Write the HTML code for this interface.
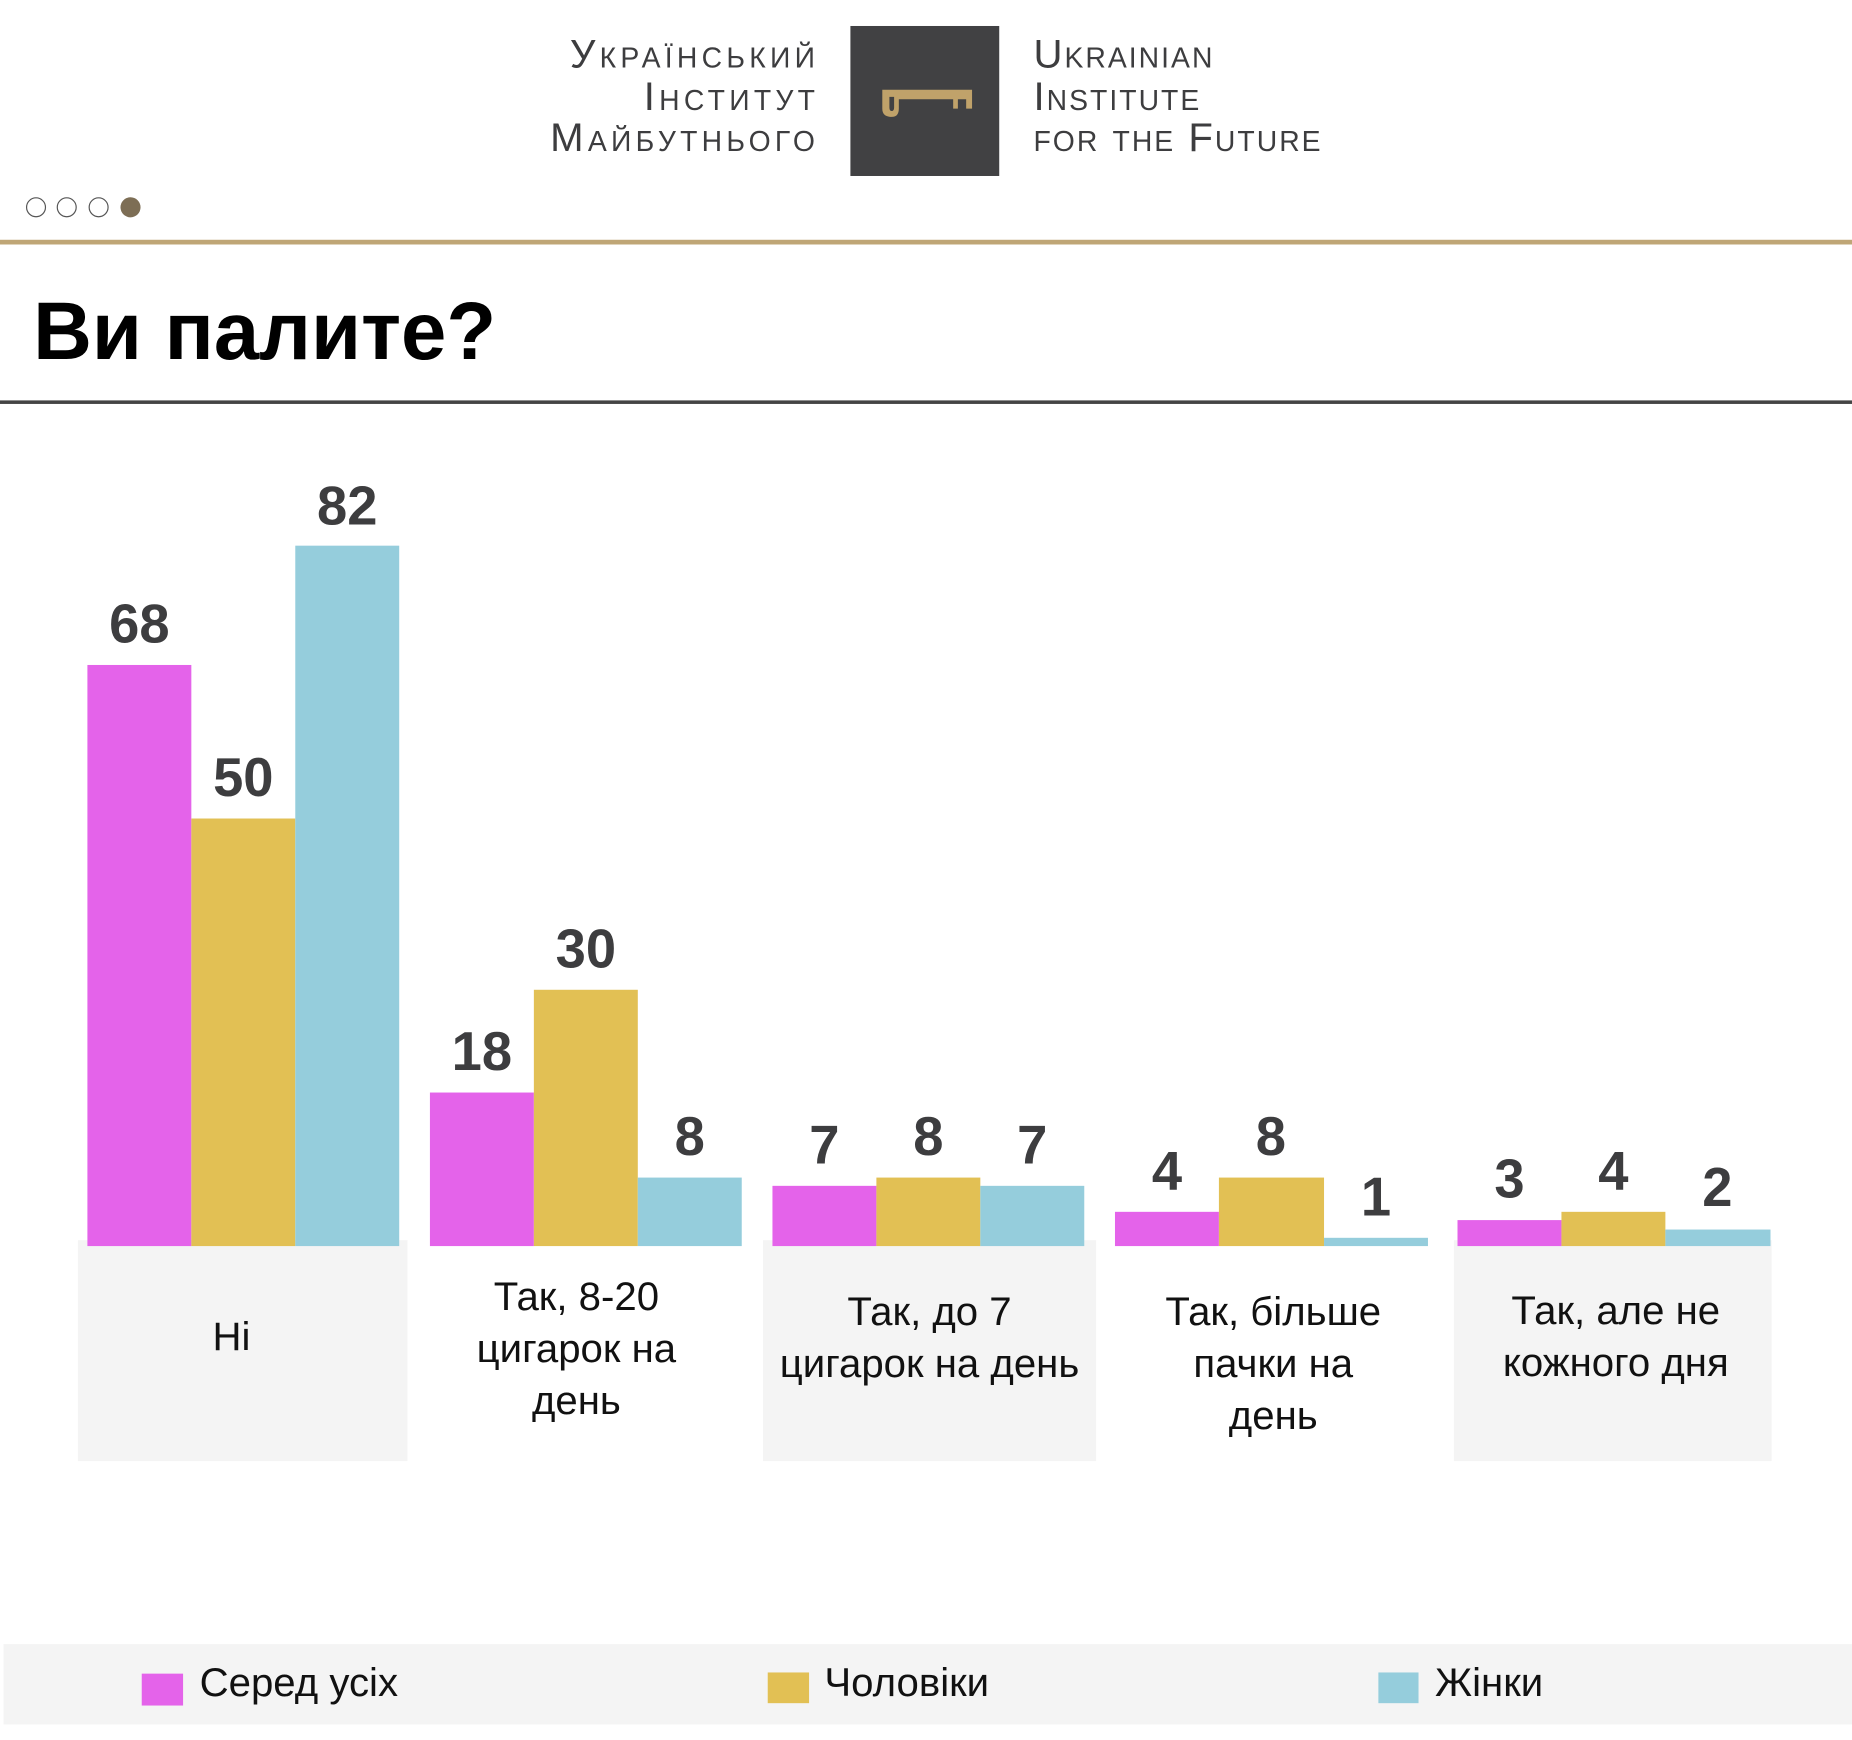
<!DOCTYPE html>
<html><head><meta charset="utf-8"><style>
html,body{margin:0;padding:0;background:#fff;width:1852px;height:1739px;overflow:hidden}
#w{position:absolute;left:0;top:0;width:1568px;height:1473px;transform:scale(1.18112);transform-origin:0 0;font-family:"Liberation Sans","DejaVu Sans",sans-serif}
.a{position:absolute}
.logo{font-variant:small-caps;font-size:34px;color:#3d3d3f;line-height:35.5px}
.v{position:absolute;width:88px;text-align:center;font-weight:bold;font-size:46px;color:#3d3d3f;line-height:46px}
.b{position:absolute;bottom:418px}
.m{background:#e463ea}.y{background:#e2c054}.c{background:#95cddc}
.lb{position:absolute;text-align:center;font-size:34px;line-height:44px;color:#111}
.box{position:absolute;background:#f4f4f4;top:1050px;height:187px}
.lg{position:absolute;font-size:34px;color:#111;top:1405px;line-height:40px}
</style></head><body><div id="w">
<div class="a logo" style="right:878px;top:29px;text-align:right;letter-spacing:3.6px;margin-right:-3.6px">Український<br>Інститут<br>Майбутнього</div>
<div class="a" style="left:720px;top:22px;width:126px;height:127px;background:#414143"></div>
<svg class="a" style="left:745px;top:72px" width="80" height="30"><path d="M2 4 H78 V20 H73 V12 H66 V20 H62 V12 H16 V20 Q16 27 10 27 Q2 27 2 20 Z M8 10 V19 Q8 22 10 22 Q12 22 12 19 V10 Z" fill="#c0a26a" fill-rule="evenodd"/></svg>
<div class="a logo" style="left:875px;top:29px;letter-spacing:1.7px">Ukrainian<br>Institute<br>for the Future</div>
<div class="a" style="left:22px;top:167px;width:15px;height:15px;border:1px solid #555;border-radius:50%"></div>
<div class="a" style="left:48px;top:167px;width:15px;height:15px;border:1px solid #555;border-radius:50%"></div>
<div class="a" style="left:75px;top:167px;width:15px;height:15px;border:1px solid #555;border-radius:50%"></div>
<div class="a" style="left:102px;top:167px;width:17px;height:17px;background:#7d6e55;border-radius:50%"></div>
<div class="a" style="left:0;top:203px;width:1568px;height:4px;background:#bfa676"></div>
<div class="a" style="left:28px;top:239px;font-size:69px;font-weight:bold;color:#000;line-height:84px">Ви палите?</div>
<div class="a" style="left:0;top:339px;width:1568px;height:3px;background:#444"></div>

<div class="box" style="left:66px;width:279px"></div>
<div class="box" style="left:646px;width:282px"></div>
<div class="box" style="left:1231px;width:269px"></div>

<div class="b m" style="left:74px;width:88px;height:492px"></div>
<div class="b y" style="left:162px;width:88px;height:362px"></div>
<div class="b c" style="left:250px;width:88px;height:593px"></div>
<div class="b m" style="left:364px;width:88px;height:130px"></div>
<div class="b y" style="left:452px;width:88px;height:217px"></div>
<div class="b c" style="left:540px;width:88px;height:58px"></div>
<div class="b m" style="left:654px;width:88px;height:51px"></div>
<div class="b y" style="left:742px;width:88px;height:58px"></div>
<div class="b c" style="left:830px;width:88px;height:51px"></div>
<div class="b m" style="left:944px;width:88px;height:29px"></div>
<div class="b y" style="left:1032px;width:89px;height:58px"></div>
<div class="b c" style="left:1121px;width:88px;height:7px"></div>
<div class="b m" style="left:1234px;width:88px;height:22px"></div>
<div class="b y" style="left:1322px;width:88px;height:29px"></div>
<div class="b c" style="left:1410px;width:89px;height:14px"></div>

<div class="v" style="left:74px;top:505px">68</div>
<div class="v" style="left:162px;top:635px">50</div>
<div class="v" style="left:250px;top:405px">82</div>
<div class="v" style="left:364px;top:867px">18</div>
<div class="v" style="left:452px;top:780px">30</div>
<div class="v" style="left:540px;top:939px">8</div>
<div class="v" style="left:654px;top:946px">7</div>
<div class="v" style="left:742px;top:939px">8</div>
<div class="v" style="left:830px;top:946px">7</div>
<div class="v" style="left:944px;top:968px">4</div>
<div class="v" style="left:1032px;top:939px">8</div>
<div class="v" style="left:1121px;top:990px">1</div>
<div class="v" style="left:1234px;top:975px">3</div>
<div class="v" style="left:1322px;top:968px">4</div>
<div class="v" style="left:1410px;top:982px">2</div>

<div class="lb" style="left:66px;width:260px;top:1110px">Ні</div>
<div class="lb" style="left:350px;width:276px;top:1076px">Так, 8-20<br>цигарок на<br>день</div>
<div class="lb" style="left:640px;width:294px;top:1089px">Так, до 7<br>цигарок на день</div>
<div class="lb" style="left:940px;width:276px;top:1089px">Так, більше<br>пачки на<br>день</div>
<div class="lb" style="left:1230px;width:276px;top:1088px">Так, але не<br>кожного дня</div>

<div class="a" style="left:3px;top:1392px;width:1565px;height:68px;background:#f4f4f4"></div>
<div class="a m" style="left:120px;top:1417px;width:35px;height:27px"></div>
<div class="lg" style="left:169px">Серед усіх</div>
<div class="a y" style="left:650px;top:1416px;width:35px;height:26px"></div>
<div class="lg" style="left:698px">Чоловіки</div>
<div class="a c" style="left:1167px;top:1416px;width:34px;height:26px"></div>
<div class="lg" style="left:1215px">Жінки</div>
</div></body></html>
